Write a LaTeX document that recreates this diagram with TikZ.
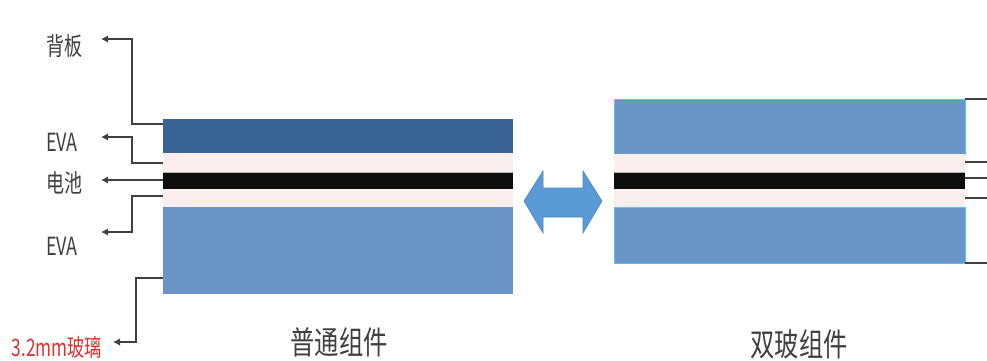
\documentclass[tikz,border=0pt]{standalone}
\usepackage{fontspec}
\usepackage{graphicx}
\setmainfont{Noto Sans CJK SC}
\usetikzlibrary{arrows.meta}
\definecolor{txtgray}{HTML}{404040}
\definecolor{backblue}{HTML}{3A6396}
\definecolor{glassblue}{HTML}{6B94C7}
\definecolor{evapink}{HTML}{FBEEEE}
\definecolor{cellblack}{HTML}{0D0D0D}
\definecolor{edgecyan}{HTML}{5BC3EC}
\definecolor{arrowblue}{HTML}{5B9BD5}
\definecolor{arrowedge}{HTML}{4A86C0}
\definecolor{labelred}{HTML}{E03030}
\newcommand{\sq}[1]{\scalebox{0.72}[1]{#1}}
\newcommand{\sqb}[1]{\scalebox{0.76}[1]{#1}}
\tikzset{
  callout/.style={draw=txtgray, line width=1.5pt, -{Latex[length=7pt,width=7.5pt]}},
  plainline/.style={draw=txtgray, line width=1.5pt},
  sidetext/.style={text=txtgray, inner sep=0pt, font=\fontsize{25}{30}\selectfont},
  bigtext/.style={text=txtgray, inner sep=0pt, font=\fontsize{32}{38}\selectfont},
  redtext/.style={text=labelred, inner sep=0pt, font=\fontsize{24}{28}\selectfont},
}
\begin{document}
\begin{tikzpicture}[x=1pt,y=-1pt]
\useasboundingbox (0,0) rectangle (987,360);
\fill[white] (0,0) rectangle (987,360);

% ---- left stack (ordinary module)
\fill[backblue] (163,119) rectangle (513,153);
\fill[evapink] (163,153) rectangle (513,172);
\fill[cellblack] (163,172) rectangle (513,189);
\draw[gray!60, line width=0.6pt] (163,172) -- (513,172) (163,189) -- (513,189);
\fill[evapink] (163,189) rectangle (513,207);
\fill[glassblue] (163,207) rectangle (513,294);

% ---- right stack (double glass module)
\fill[glassblue] (614,99) rectangle (965,154);
\draw[edgecyan, line width=1pt] (614,99) rectangle (965,154);
\fill[evapink] (614,154) rectangle (965,172);
\fill[cellblack] (614,172) rectangle (965,189);
\draw[gray!60, line width=0.6pt] (614,172) -- (965,172) (614,189) -- (965,189);
\fill[evapink] (614,189) rectangle (965,207);
\fill[glassblue] (614,207) rectangle (965,263);
\draw[edgecyan, line width=1pt] (614,207) rectangle (965,263);

% ---- double arrow
\filldraw[fill=arrowblue, draw=arrowedge, line width=0.6pt]
  (524,201) -- (543,171) -- (543,188) -- (583,188) -- (583,171) -- (602,201)
  -- (583,233) -- (583,217) -- (543,217) -- (543,233) -- cycle;

% ---- attachment coordinates
\coordinate (pBack) at (163,124);
\coordinate (pEvaA) at (163,163);
\coordinate (pCell) at (163,180);
\coordinate (pEvaB) at (163,196);
\coordinate (pGlass) at (163,278);
\coordinate (eBack) at (101,39);
\coordinate (eEvaA) at (101,137);
\coordinate (eCell) at (101,180);
\coordinate (eEvaB) at (101,232);
\coordinate (eGlass) at (113,342);

% ---- labels
\node[sidetext] (tBack) at (64,46) {\sq{背板}};
\node[sidetext] (tEvaA) at (62,142) {\sq{EVA}};
\node[sidetext] (tCell) at (64,183) {\sq{电池}};
\node[sidetext] (tEvaB) at (62,246) {\sq{EVA}};
\node[redtext] (tGlass) at (57,347) {\sq{3.2mm玻璃}};
\node[bigtext] (tLeft) at (339,342) {\sqb{普通组件}};
\node[bigtext] (tRight) at (799,344) {\sqb{双玻组件}};

% ---- callouts
\draw[callout] (pBack) -- (132,124) -- (132,39) -- (eBack);
\draw[callout] (pEvaA) -- (132,163) -- (132,137) -- (eEvaA);
\draw[callout] (pCell) -- (eCell);
\draw[callout] (pEvaB) -- (132,196) -- (132,232) -- (eEvaB);
\draw[callout] (pGlass) -- (136,278) -- (136,342) -- (eGlass);

% ---- right side callout stubs (cut off)
\coordinate (rA) at (965,99);
\coordinate (rB) at (965,162);
\coordinate (rC) at (965,178);
\coordinate (rD) at (965,198);
\coordinate (rE) at (965,263);
\draw[plainline] (rA) -- ++(30,0);
\draw[plainline] (rB) -- ++(30,0);
\draw[plainline] (rC) -- ++(30,0);
\draw[plainline] (rD) -- ++(30,0);
\draw[plainline] (rE) -- ++(30,0);
\end{tikzpicture}
\end{document}
